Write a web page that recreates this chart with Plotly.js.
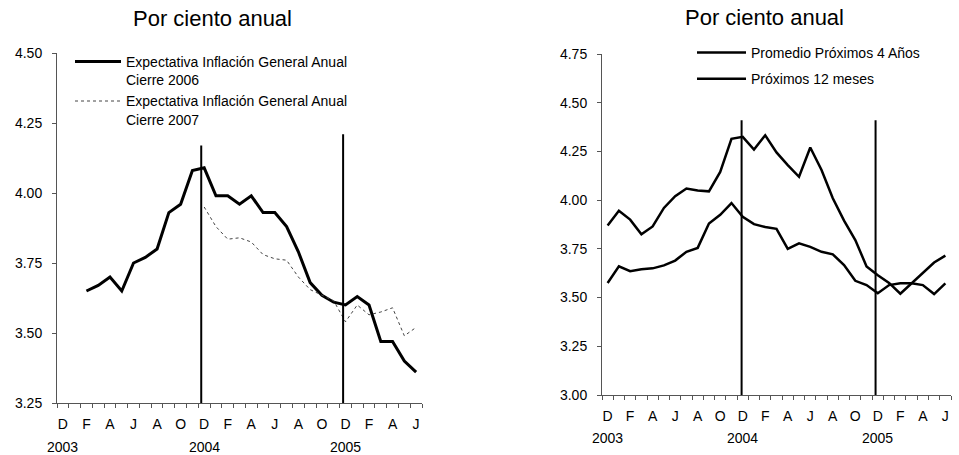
<!DOCTYPE html>
<html><head><meta charset="utf-8">
<script src="https://cdn.plot.ly/plotly-3.0.1.min.js"></script>
<style>html,body{margin:0;padding:0;background:#fff;}#chart{width:959px;height:455px;}</style>
</head><body><div id="chart"></div>
<script>
// Months: Dec 2002 .. Jun 2005
const periods = ['2002-12','2003-01','2003-02','2003-03','2003-04','2003-05','2003-06','2003-07','2003-08','2003-09','2003-10','2003-11',
  '2003-12','2004-01','2004-02','2004-03','2004-04','2004-05','2004-06','2004-07','2004-08','2004-09','2004-10','2004-11',
  '2004-12','2005-01','2005-02','2005-03','2005-04','2005-05','2005-06'];
const monthLabels = ['D','','F','','A','','J','','A','','O','','D','','F','','A','','J','','A','','O','','D','','F','','A','','J'];
const yearLabels = ['2003','2004','2005'];
const yearAt = ['2002-12','2003-12','2004-12'];

// Left panel
const cierre2006 = [null,null,3.65,3.67,3.70,3.65,3.75,3.77,3.80,3.93,3.96,4.08,4.09,3.99,3.99,3.96,3.99,3.93,3.93,3.88,3.79,3.68,3.635,3.61,3.60,3.63,3.60,3.47,3.47,3.40,3.36];
const cierre2007 = [null,null,null,null,null,null,null,null,null,null,null,null,3.95,3.88,3.835,3.84,3.825,3.78,3.765,3.76,3.70,3.655,3.635,3.615,3.54,3.60,3.565,3.575,3.59,3.49,3.52];
const leftVlineX = [11.75, 23.8];
const leftVlineTop = [4.17, 4.21];

// Right panel
const proximos12m = [3.87,3.945,3.90,3.825,3.865,3.96,4.02,4.06,4.05,4.045,4.145,4.315,4.325,4.26,4.333,4.245,4.18,4.12,4.27,4.155,4.01,3.895,3.795,3.66,3.615,3.575,3.52,3.575,3.63,3.68,3.715];
const promedio4 = [3.575,3.66,3.635,3.645,3.65,3.665,3.69,3.735,3.755,3.88,3.925,3.985,3.915,3.877,3.862,3.853,3.75,3.778,3.76,3.735,3.722,3.667,3.586,3.564,3.522,3.564,3.573,3.573,3.564,3.518,3.573];
const rightVlineX = [11.9, 23.8];
const rightVlineTop = [4.41, 4.41];

const FONT = 'Liberation Sans, Arial, sans-serif';

const traces = [
  {x: periods, y: cierre2006, name: 'Expectativa Inflación General Anual<br>Cierre 2006', type: 'scatter', mode: 'lines',
   line: {color: '#000', width: 3}, xaxis: 'x', yaxis: 'y', legend: 'legend', legendgroup: 'a'},
  {x: periods, y: cierre2007, name: 'Expectativa Inflación General Anual<br>Cierre 2007', type: 'scatter', mode: 'lines',
   line: {color: '#444', width: 1, dash: 'dot'}, xaxis: 'x', yaxis: 'y', legend: 'legend', legendgroup: 'b'},
  {x: periods, y: promedio4, name: 'Promedio Próximos 4 Años', type: 'scatter', mode: 'lines',
   line: {color: '#000', width: 2.5}, xaxis: 'x2', yaxis: 'y2', legend: 'legend2', legendgroup: 'c'},
  {x: periods, y: proximos12m, name: 'Próximos 12 meses', type: 'scatter', mode: 'lines',
   line: {color: '#000', width: 2.5}, xaxis: 'x2', yaxis: 'y2', legend: 'legend2', legendgroup: 'd'}
];

const shapes = [];
leftVlineX.forEach((v, k) => shapes.push({type: 'line', xref: 'x', yref: 'y', x0: v, x1: v, y0: 3.25, y1: leftVlineTop[k], line: {color: '#000', width: 2}}));
rightVlineX.forEach((v, k) => shapes.push({type: 'line', xref: 'x2', yref: 'y2', x0: v, x1: v, y0: 3.00, y1: rightVlineTop[k], line: {color: '#000', width: 2}}));

const annotations = [
  {text: 'Por ciento anual', xref: 'paper', yref: 'paper', x: 212/959, y: 1 - 19/455, xanchor: 'center', yanchor: 'middle', showarrow: false, font: {size: 22, color: '#000', family: FONT}},
  {text: 'Por ciento anual', xref: 'paper', yref: 'paper', x: 764/959, y: 1 - 18/455, xanchor: 'center', yanchor: 'middle', showarrow: false, font: {size: 22, color: '#000', family: FONT}}
];
yearLabels.forEach((t, k) => {
  annotations.push({text: t, xref: 'x', yref: 'y domain', x: yearAt[k], y: 0, yshift: -44, xanchor: 'center', yanchor: 'middle', showarrow: false, font: {size: 14, color: '#000', family: FONT}});
  annotations.push({text: t, xref: 'x2', yref: 'y2 domain', x: yearAt[k], y: 0, yshift: -43, xanchor: 'center', yanchor: 'middle', showarrow: false, font: {size: 14, color: '#000', family: FONT}});
});

function xax(domain, anchor) {
  return {domain: domain, anchor: anchor, type: 'category', range: [-0.5, 30.5], tickmode: 'array', tickvals: periods, ticktext: monthLabels,
    tickson: 'boundaries', ticks: 'outside', ticklen: 4, tickcolor: '#555', tickwidth: 1, showgrid: false, zeroline: false,
    showline: true, linecolor: '#555', linewidth: 1, ticklabelstandoff: 8, tickangle: 0,
    tickfont: {size: 14, color: '#000', family: FONT}, fixedrange: true};
}
function yax(domain, anchor, range) {
  return {domain: domain, anchor: anchor, range: range, dtick: 0.25, tick0: 0, tickformat: '.2f', ticks: 'outside', ticklen: 4,
    tickcolor: '#555', showgrid: false, zeroline: false, showline: true, linecolor: '#555', linewidth: 1, ticklabelstandoff: 7,
    tickfont: {size: 14, color: '#000', family: FONT}, fixedrange: true};
}

const layout = {
  width: 959, height: 455, margin: {l: 0, r: 0, t: 0, b: 0}, paper_bgcolor: '#fff', plot_bgcolor: '#fff',
  font: {family: FONT, color: '#000'},
  showlegend: true,
  xaxis: xax([57/959, 422/959], 'y'),
  yaxis: yax([1 - 403/455, 1 - 53/455], 'x', [3.25, 4.50]),
  xaxis2: xax([602/959, 951/959], 'y2'),
  yaxis2: yax([1 - 395/455, 1 - 54/455], 'x2', [3.00, 4.75]),
  legend: {x: 70/959, y: 1 - 46/455, xanchor: 'left', yanchor: 'top', bgcolor: 'rgba(0,0,0,0)', borderwidth: 0,
    itemwidth: 46, valign: 'top', traceorder: 'grouped', tracegroupgap: 0, font: {size: 14, color: '#000', family: FONT}},
  legend2: {x: 692/959, y: 1 - 37/455, xanchor: 'left', yanchor: 'top', bgcolor: 'rgba(0,0,0,0)', borderwidth: 0,
    itemwidth: 49, valign: 'top', traceorder: 'grouped', tracegroupgap: 5, font: {size: 14, color: '#000', family: FONT}},
  shapes: shapes,
  annotations: annotations
};

Plotly.newPlot('chart', traces, layout, {staticPlot: true, displayModeBar: false});
</script></body></html>
